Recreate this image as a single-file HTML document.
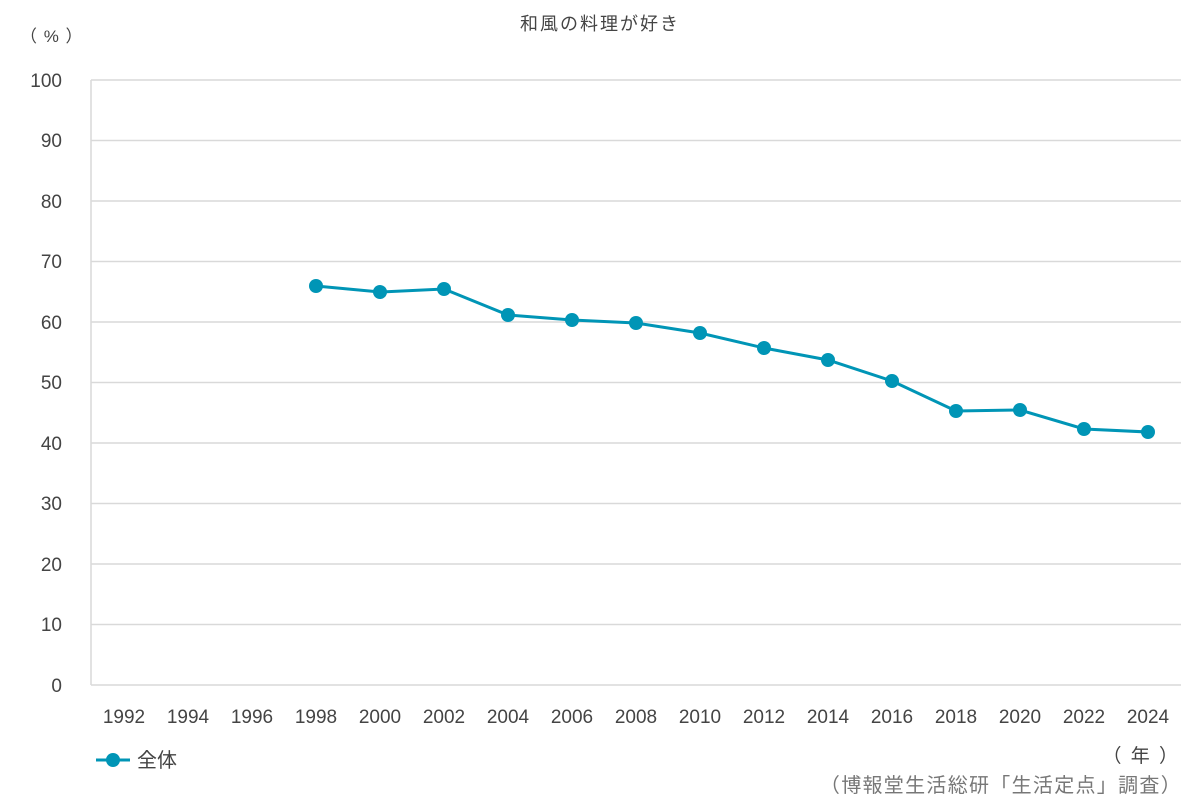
<!DOCTYPE html>
<html><head><meta charset="utf-8"><style>
body{margin:0;background:#fff;}
svg text{font-family:"Liberation Sans","Noto Sans CJK JP",sans-serif;fill:#444;}
</style></head><body>
<svg width="1200" height="800" xmlns="http://www.w3.org/2000/svg">
<text x="600" y="30" font-size="18" letter-spacing="2" text-anchor="middle">和風の料理が好き</text>
<text x="20" y="42" font-size="17" letter-spacing="1">（ % ）</text>
<g stroke="#d9d9d9" stroke-width="1.5">
<line x1="91" x2="1181" y1="80" y2="80"/><line x1="91" x2="1181" y1="140.5" y2="140.5"/>
<line x1="91" x2="1181" y1="201" y2="201"/><line x1="91" x2="1181" y1="261.5" y2="261.5"/>
<line x1="91" x2="1181" y1="322" y2="322"/><line x1="91" x2="1181" y1="382.5" y2="382.5"/>
<line x1="91" x2="1181" y1="443" y2="443"/><line x1="91" x2="1181" y1="503.5" y2="503.5"/>
<line x1="91" x2="1181" y1="564" y2="564"/><line x1="91" x2="1181" y1="624.5" y2="624.5"/>
<line x1="91" x2="1181" y1="685" y2="685"/><line x1="91" x2="91" y1="80" y2="685"/>
</g>
<g font-size="19" text-anchor="end">
<text x="62" y="87">100</text><text x="62" y="147">90</text><text x="62" y="208">80</text>
<text x="62" y="268">70</text><text x="62" y="329">60</text><text x="62" y="389">50</text>
<text x="62" y="450">40</text><text x="62" y="510">30</text><text x="62" y="571">20</text>
<text x="62" y="631">10</text><text x="62" y="692">0</text>
</g>
<g font-size="19" text-anchor="middle">
<text x="124" y="723">1992</text><text x="188" y="723">1994</text><text x="252" y="723">1996</text>
<text x="316" y="723">1998</text><text x="380" y="723">2000</text><text x="444" y="723">2002</text>
<text x="508" y="723">2004</text><text x="572" y="723">2006</text><text x="636" y="723">2008</text>
<text x="700" y="723">2010</text><text x="764" y="723">2012</text><text x="828" y="723">2014</text>
<text x="892" y="723">2016</text><text x="956" y="723">2018</text><text x="1020" y="723">2020</text>
<text x="1084" y="723">2022</text><text x="1148" y="723">2024</text>
</g>
<polyline fill="none" stroke="#0095b6" stroke-width="3" points="316,286 380,292 444,289 508,315 572,320 636,323 700,333 764,348 828,360 892,381 956,411 1020,410 1084,429 1148,432"/>
<g fill="#0095b6">
<circle cx="316" cy="286" r="7"/><circle cx="380" cy="292" r="7"/><circle cx="444" cy="289" r="7"/>
<circle cx="508" cy="315" r="7"/><circle cx="572" cy="320" r="7"/><circle cx="636" cy="323" r="7"/>
<circle cx="700" cy="333" r="7"/><circle cx="764" cy="348" r="7"/><circle cx="828" cy="360" r="7"/>
<circle cx="892" cy="381" r="7"/><circle cx="956" cy="411" r="7"/><circle cx="1020" cy="410" r="7"/>
<circle cx="1084" cy="429" r="7"/><circle cx="1148" cy="432" r="7"/>
<line x1="96" x2="130" y1="760" y2="760" stroke="#0095b6" stroke-width="3"/>
<circle cx="113" cy="760" r="7"/>
</g>
<text x="137" y="767" font-size="20">全体</text>
<text x="1180" y="762" font-size="19" letter-spacing="2" text-anchor="end">（ 年 ）</text>
<text x="1182" y="792" font-size="20" letter-spacing="1.3" text-anchor="end" style="fill:#777">（博報堂生活総研「生活定点」調査）</text>
</svg>
</body></html>
